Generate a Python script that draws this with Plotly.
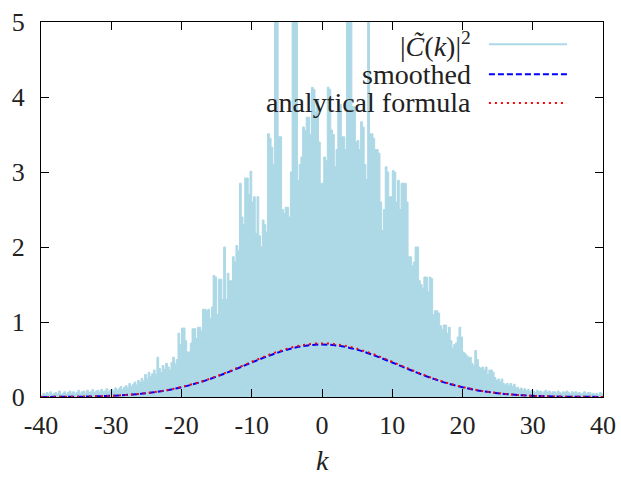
import plotly.graph_objects as go

# ---- data ----
K_MIN = -40.0
K_STEP = 0.25
SPECTRUM = [
    0.02, 0.05, 0.03, 0.06,  0.04, 0.07, 0.03, 0.05,  0.06, 0.04, 0.08, 0.03,
    0.05, 0.07, 0.04, 0.06,  0.08, 0.05, 0.07, 0.04,  0.06, 0.09, 0.05, 0.07,
    0.08, 0.05, 0.09, 0.06,  0.07, 0.10, 0.06, 0.08,  0.09, 0.06, 0.10, 0.07,
    0.08, 0.11, 0.07, 0.09,  0.10, 0.08, 0.12, 0.09,  0.11, 0.14, 0.10, 0.13,
    0.15, 0.12, 0.18, 0.14,  0.17, 0.20, 0.16, 0.22,  0.19, 0.25, 0.21, 0.30,
    0.24, 0.33, 0.27, 0.31,  0.36, 0.30, 0.53, 0.38,  0.33, 0.42, 0.37, 0.45,
    0.40, 0.36, 0.46, 0.53,  0.44, 0.50, 0.85, 0.70,  0.92, 0.92, 0.75, 0.60,
    0.60, 0.72, 0.91, 0.91,  0.78, 0.93, 0.93, 0.88,  1.17, 1.17, 1.15, 1.17,
    1.05, 1.20, 1.62, 1.60,  1.10, 1.57, 1.57, 1.30,  2.00, 1.30, 1.65, 1.55,
    1.55, 1.87, 1.80, 2.02,  1.95, 2.85, 2.40, 2.30,  2.92, 2.92, 2.70, 3.01,
    2.60, 2.67, 2.18, 2.67,  2.15, 2.00, 2.36, 2.30,  2.20, 3.51, 3.45, 3.33,
    3.10, 5.50, 5.50, 3.47,  3.47, 2.50, 2.45, 2.53,  2.53, 2.40, 3.00, 5.50,
    5.50, 5.50, 2.89, 3.10,  3.20, 3.60, 3.55, 3.73,  3.73, 3.50, 4.13, 4.10,
    3.80, 3.96, 3.40, 2.85,  2.85, 3.20, 3.15, 4.13,  4.10, 3.56, 3.50, 3.07,
    3.30, 3.96, 3.90, 3.47,  3.47, 3.30, 5.50, 5.50,  5.50, 3.87, 3.87, 3.40,
    3.42, 3.30, 3.67, 3.60,  3.10, 2.90, 5.50, 3.51,  3.51, 3.45, 3.30, 3.30,
    3.25, 2.60, 2.22, 2.50,  3.07, 3.00, 2.67, 2.67,  3.02, 3.00, 2.60, 2.89,
    2.50, 2.85, 2.85, 2.85,  2.60, 1.87, 1.87, 1.75,  1.80, 2.00, 2.00, 1.55,
    1.50, 1.45, 1.60, 1.60,  1.40, 1.60, 1.58, 1.10,  1.15, 1.15, 1.12, 0.95,
    0.90, 0.96, 0.96, 0.85,  0.93, 0.75, 0.65, 0.70,  0.72, 0.80, 0.93, 0.80,
    0.60, 0.58, 0.55, 0.53,  0.53, 0.45, 0.42, 0.62,  0.50, 0.40, 0.38, 0.40,
    0.36, 0.40, 0.30, 0.36,  0.36, 0.33, 0.26, 0.22,  0.24, 0.20, 0.24, 0.18,
    0.16, 0.18, 0.15, 0.18,  0.14, 0.17, 0.12, 0.13,  0.10, 0.12, 0.09, 0.11,
    0.08, 0.10, 0.07, 0.09,  0.08, 0.06, 0.09, 0.07,  0.08, 0.05, 0.07, 0.09,
    0.06, 0.08, 0.05, 0.07,  0.07, 0.05, 0.08, 0.06,  0.05, 0.07, 0.06, 0.08,
    0.06, 0.04, 0.07, 0.05,  0.07, 0.05, 0.06, 0.04,  0.05, 0.07, 0.04, 0.06,
    0.06, 0.04, 0.05, 0.03,  0.05, 0.03, 0.06, 0.04,  0.03,
]
K_SPEC = [round(K_MIN + K_STEP * i, 2) for i in range(len(SPECTRUM))]

K_CURVE = [-40, -38, -36, -34, -32, -30, -28, -26, -24, -22, -20, -18, -16, -14,
           -12, -10, -8, -6, -4, -2, 0, 2, 4, 6, 8, 10, 12, 14, 16, 18, 20, 22,
           24, 26, 28, 30, 32, 34, 36, 38, 40]
SMOOTHED = [0.001, 0.002, 0.003, 0.005, 0.009, 0.016, 0.026, 0.041, 0.062, 0.091,
            0.130, 0.179, 0.238, 0.307, 0.382, 0.460, 0.535, 0.602, 0.654, 0.688,
            0.700,
            0.688, 0.654, 0.602, 0.535, 0.460, 0.382, 0.307, 0.238, 0.179, 0.130,
            0.091, 0.062, 0.041, 0.026, 0.016, 0.009, 0.005, 0.003, 0.002, 0.001]
ANALYTICAL = [0.001, 0.002, 0.003, 0.006, 0.010, 0.016, 0.026, 0.042, 0.063, 0.093,
              0.133, 0.183, 0.243, 0.313, 0.390, 0.469, 0.546, 0.614, 0.668, 0.703,
              0.715,
              0.703, 0.668, 0.614, 0.546, 0.469, 0.390, 0.313, 0.243, 0.183, 0.133,
              0.093, 0.063, 0.042, 0.026, 0.016, 0.010, 0.006, 0.003, 0.002, 0.001]

X_TICKS = [-40, -30, -20, -10, 0, 10, 20, 30, 40]
Y_TICKS = [0, 1, 2, 3, 4, 5]
LEGEND_LABELS = ["|<i>C̃</i>(<i>k</i>)|<sup>2</sup>", "smoothed", "analytical formula"]

# ---- styling ----
FONT = "Liberation Serif, DejaVu Serif, serif"
TXT = "#222222"
C_SPEC = "#add8e6"
C_SMOOTH = "#0000ff"
C_ANAL = "#ff0000"

fig = go.Figure()
fig.add_trace(go.Scatter(x=K_SPEC, y=SPECTRUM, mode="lines", line_shape="hv",
                         line=dict(color=C_SPEC, width=1), fill="tozeroy",
                         fillcolor=C_SPEC, showlegend=False, hoverinfo="skip"))
fig.add_trace(go.Scatter(x=K_CURVE, y=SMOOTHED, mode="lines", line_shape="spline",
                         line=dict(color=C_SMOOTH, width=2, dash="6px,3px"),
                         showlegend=False))
fig.add_trace(go.Scatter(x=K_CURVE, y=ANALYTICAL, mode="lines", line_shape="spline",
                         line=dict(color=C_ANAL, width=2, dash="2px,4px"),
                         showlegend=False))

axis_common = dict(showline=True, linecolor="black", linewidth=1.3, mirror="ticks",
                   ticks="inside", ticklen=8, tickwidth=1.3, tickcolor="black",
                   showgrid=False, zeroline=False, automargin=False,
                   tickfont=dict(family=FONT, size=26, color=TXT))
fig.update_xaxes(range=[-40, 40], tickvals=X_TICKS, ticktext=[str(v) for v in X_TICKS],
                 ticklabelstandoff=5, **axis_common)
fig.update_yaxes(range=[0, 5], tickvals=Y_TICKS, ticktext=[str(v) for v in Y_TICKS],
                 ticklabelstandoff=10, **axis_common)

# gnuplot-style key: right-aligned text, sample to the right
row_y = [0.941, 0.861, 0.784]
styles = [(C_SPEC, "solid"), (C_SMOOTH, "6px,3px"), (C_ANAL, "2px,4px")]
annotations = []
shapes = []
for lab, yy, (col, dash) in zip(LEGEND_LABELS, row_y, styles):
    annotations.append(dict(text=lab, x=0.768, y=yy, xref="paper", yref="paper",
                            xanchor="right", yanchor="middle", showarrow=False,
                            font=dict(family=FONT, size=28, color=TXT)))
    shapes.append(dict(type="line", xref="paper", yref="paper", x0=0.797, x1=0.936,
                       y0=yy, y1=yy, line=dict(color=col, width=2, dash=dash)))

annotations.append(dict(text="<i>k</i>", x=0.5, y=-0.214, xref="paper", yref="paper",
                        xanchor="center", yanchor="bottom", showarrow=False,
                        borderpad=0,
                        font=dict(family=FONT, size=28, color=TXT)))

fig.update_layout(width=621, height=477, margin=dict(l=41, r=18, t=22, b=80),
                  plot_bgcolor="white", paper_bgcolor="white",
                  annotations=annotations, shapes=shapes, showlegend=False)

fig.write_html("out.html", config={"displayModeBar": False},
               post_script="document.body.style.margin='0';document.body.style.padding='0';")
